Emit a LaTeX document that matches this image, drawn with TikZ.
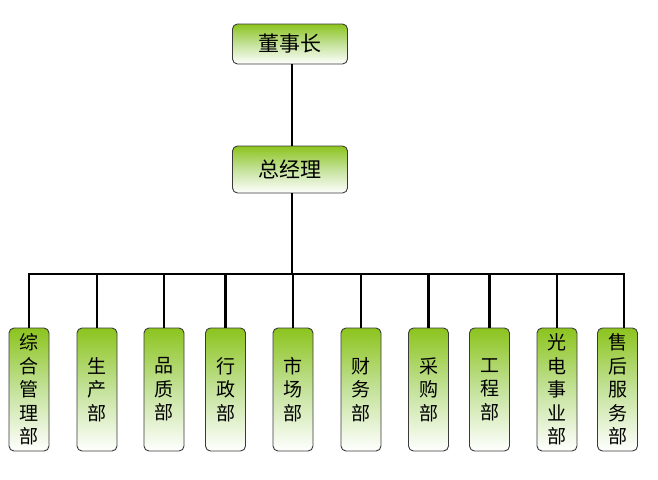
\documentclass[tikz,border=0pt]{standalone}
\usepackage{fontspec}
\newfontfamily\cjk{Noto Sans CJK SC}
\definecolor{boxgreen}{HTML}{8CC41E}
\definecolor{boxmid}{HTML}{C4E29A}
\definecolor{boxedge}{HTML}{3A3A3A}
\tikzset{
  orgbox/.style={draw=boxedge, line width=0.9pt, rounded corners=5pt,
    top color=boxgreen, bottom color=white, middle color=boxmid,
    inner sep=0pt, align=center},
  topbox/.style={orgbox, minimum width=115pt, minimum height=40pt,
    font=\cjk\fontsize{21}{24}\selectfont},
  deptbox/.style={orgbox, minimum width=40pt, minimum height=123pt,
    font=\cjk\fontsize{19}{23.5}\selectfont},
  link/.style={line width=2.4pt, black}
}
\begin{document}
\begin{tikzpicture}[x=1pt,y=-1pt]
\useasboundingbox (0,0) rectangle (658,479);
\node[topbox] (chair) at (290,44) {董事长};
\node[topbox, minimum height=47pt] (gm) at (290,169.5) {总经理};
\node[deptbox] (d1) at (29,389.5) {综\\合\\管\\理\\部};
\node[deptbox] (d2) at (97,389.5) {生\\产\\部};
\node[deptbox] (d3) at (164,389.5) {品\\质\\部};
\node[deptbox] (d4) at (225.5,389.5) {行\\政\\部};
\node[deptbox] (d5) at (293,389.5) {市\\场\\部};
\node[deptbox] (d6) at (361,389.5) {财\\务\\部};
\node[deptbox] (d7) at (428.5,389.5) {采\\购\\部};
\node[deptbox] (d8) at (489.5,389.5) {工\\程\\部};
\node[deptbox] (d9) at (557,389.5) {光\\电\\事\\业\\部};
\node[deptbox] (d10) at (617.5,389.5) {售\\后\\服\\务\\部};
\coordinate (spine) at (292,274);
\coordinate (busend) at (624,274);
\draw[link] (chair.south -| spine) -- (gm.north -| spine);
\draw[link] (gm.south -| spine) -- (spine);
\draw[link] (d1.north) |- (busend) -- (busend |- d10.north);
\foreach \d in {d2,d3,d4,d5,d6,d7,d8,d9}{
  \draw[link] (\d.north |- spine) -- (\d.north);
}
\end{tikzpicture}
\end{document}
